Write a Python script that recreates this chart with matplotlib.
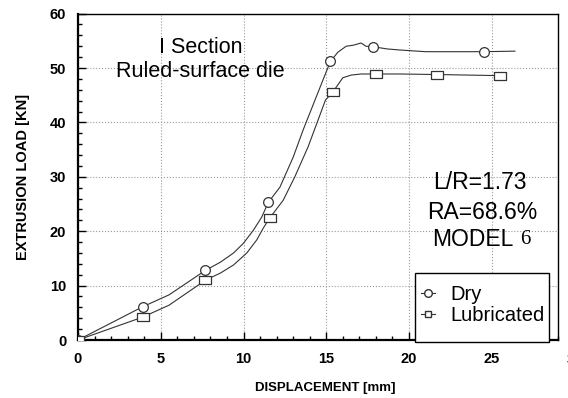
import matplotlib
matplotlib.use("Agg")
import matplotlib.pyplot as plt
from matplotlib.path import Path
from matplotlib.patches import Rectangle
from matplotlib.ticker import MultipleLocator

plt.rcParams['font.family'] = ['Liberation Sans', 'DejaVu Sans']

# measured points (markers)
dry_x = [0, 3.9, 7.7, 11.5, 15.25, 17.85, 24.5]
dry_y = [0, 6.1, 12.8, 25.3, 51.2, 53.9, 53.0]
lub_x = [0, 3.9, 7.7, 11.6, 15.4, 18.0, 21.7, 25.5]
lub_y = [0, 4.2, 11.0, 22.5, 45.6, 48.9, 48.8, 48.6]

# fitted curves
dry_curve_x = [0, 3.9, 5.5, 7.7, 8.6, 9.4, 10.0, 10.6, 11.1, 11.5, 12.2, 13.0, 13.6,
               14.2, 14.8, 15.25, 15.7, 16.2, 16.65, 17.1, 17.4, 17.85, 18.7, 19.5,
               21.0, 24.5, 26.4]
dry_curve_y = [0, 6.1, 8.3, 12.8, 14.3, 16.0, 17.8, 20.2, 22.6, 25.3, 28.1, 33.6, 38.6,
               43.2, 47.8, 51.2, 52.9, 54.0, 54.2, 54.6, 54.0, 53.9, 53.5, 53.3,
               53.0, 53.0, 53.1]
lub_curve_x = [0, 3.9, 5.5, 7.7, 8.6, 9.4, 10.2, 10.8, 11.2, 11.6, 12.4, 13.1, 13.9,
               14.5, 14.95, 15.4, 15.7, 16.0, 16.5, 17.1, 18.0, 19.5, 21.7, 25.5]
lub_curve_y = [0, 4.2, 6.4, 11.0, 12.3, 13.8, 16.0, 18.4, 20.6, 22.5, 25.7, 30.0, 35.5,
               40.4, 44.1, 45.6, 46.9, 48.2, 48.7, 48.9, 48.9, 48.9, 48.8, 48.6]

xticks = [0, 5, 10, 15, 20, 25]
yticks = [0, 10, 20, 30, 40, 50, 60]

# flat rectangle marker like the original squares
rect = Path([(-1, -0.7), (1, -0.7), (1, 0.7), (-1, 0.7), (-1, -0.7)],
            [Path.MOVETO, Path.LINETO, Path.LINETO, Path.LINETO, Path.CLOSEPOLY])

lc = '#333333'
fig = plt.figure(figsize=(5.68, 3.98), dpi=100)
ax = fig.add_axes([0.1373, 0.1457, 0.8451, 0.8201])

ax.plot(dry_curve_x, dry_curve_y, color=lc, lw=0.8, zorder=2)
ax.plot(lub_curve_x, lub_curve_y, color=lc, lw=0.8, zorder=2)
ax.plot(dry_x, dry_y, ls='none', marker='o', ms=7, mfc='white', mec=lc, mew=0.9, zorder=3)
ax.plot(lub_x, lub_y, ls='none', marker=rect, ms=8, mfc='white', mec=lc, mew=0.9, zorder=3)

# legend handles
ax.plot([], [], color=lc, lw=0.8, marker='o', ms=5.5, mfc='white', mec=lc, label='Dry')
ax.plot([], [], color=lc, lw=0.8, marker='s', ms=4.5, mfc='white', mec=lc, label='Lubricated')

ax.set_xlim(0, 29)
ax.set_ylim(0, 60)
ax.set_xticks(xticks)
ax.set_yticks(yticks)
ax.xaxis.set_minor_locator(MultipleLocator(1))
ax.yaxis.set_minor_locator(MultipleLocator(2))
ax.tick_params(which='both', direction='in', top=False, right=False, width=1, color='black')
ax.tick_params(which='major', length=6, labelsize=10.5, pad=8.5)
ax.tick_params(which='minor', length=3)
for lab in ax.get_xticklabels() + ax.get_yticklabels():
    lab.set_fontweight('bold')
ax.grid(True, which='major', ls=':', color='#999999', lw=0.8)
ax.set_axisbelow(True)

for side in ['left', 'bottom']:
    ax.spines[side].set_linewidth(1.6)
for side in ['top', 'right']:
    ax.spines[side].set_linewidth(1.0)

# cut-off "30" label at the right edge
ax.text(30, -0.04, '30', transform=ax.get_xaxis_transform(), ha='center', va='top',
        fontsize=10.5, fontweight='bold', clip_on=False)

ax.set_xlabel('DISPLACEMENT [mm]', fontsize=9.5, fontweight='bold', labelpad=12)
ax.xaxis.label.set_x(0.515)
ax.set_ylabel('EXTRUSION LOAD [KN]', fontsize=10.5, fontweight='bold', labelpad=14)

ax.text(7.4, 53.7, 'I Section', fontsize=15.5, ha='center', va='center')
ax.text(7.4, 49.3, 'Ruled-surface die', fontsize=15.5, ha='center', va='center')
ax.text(24.3, 28.9, 'L/R=1.73', fontsize=16.5, ha='center', va='center')
ax.text(24.4, 23.5, 'RA=68.6%', fontsize=16.5, ha='center', va='center')
ax.text(26.3, 18.4, 'MODEL', fontsize=16.5, ha='right', va='center')
ax.text(26.7, 18.4, '6', fontsize=15, ha='left', va='center', family='Liberation Serif')

# legend box drawn to the size of the original frame
ax.add_patch(Rectangle((0.702, -0.006), 0.279, 0.2115, transform=ax.transAxes,
                       facecolor='white', edgecolor='black', lw=1.0, zorder=4,
                       clip_on=False))
leg = ax.legend(loc='upper left', bbox_to_anchor=(0.702, 0.187), fontsize=14.5,
                frameon=False, handlelength=0.7, handletextpad=0.75, borderpad=0.3,
                labelspacing=0.1, borderaxespad=0)
leg.set_zorder(5)

fig.savefig('out.png', dpi=100)
